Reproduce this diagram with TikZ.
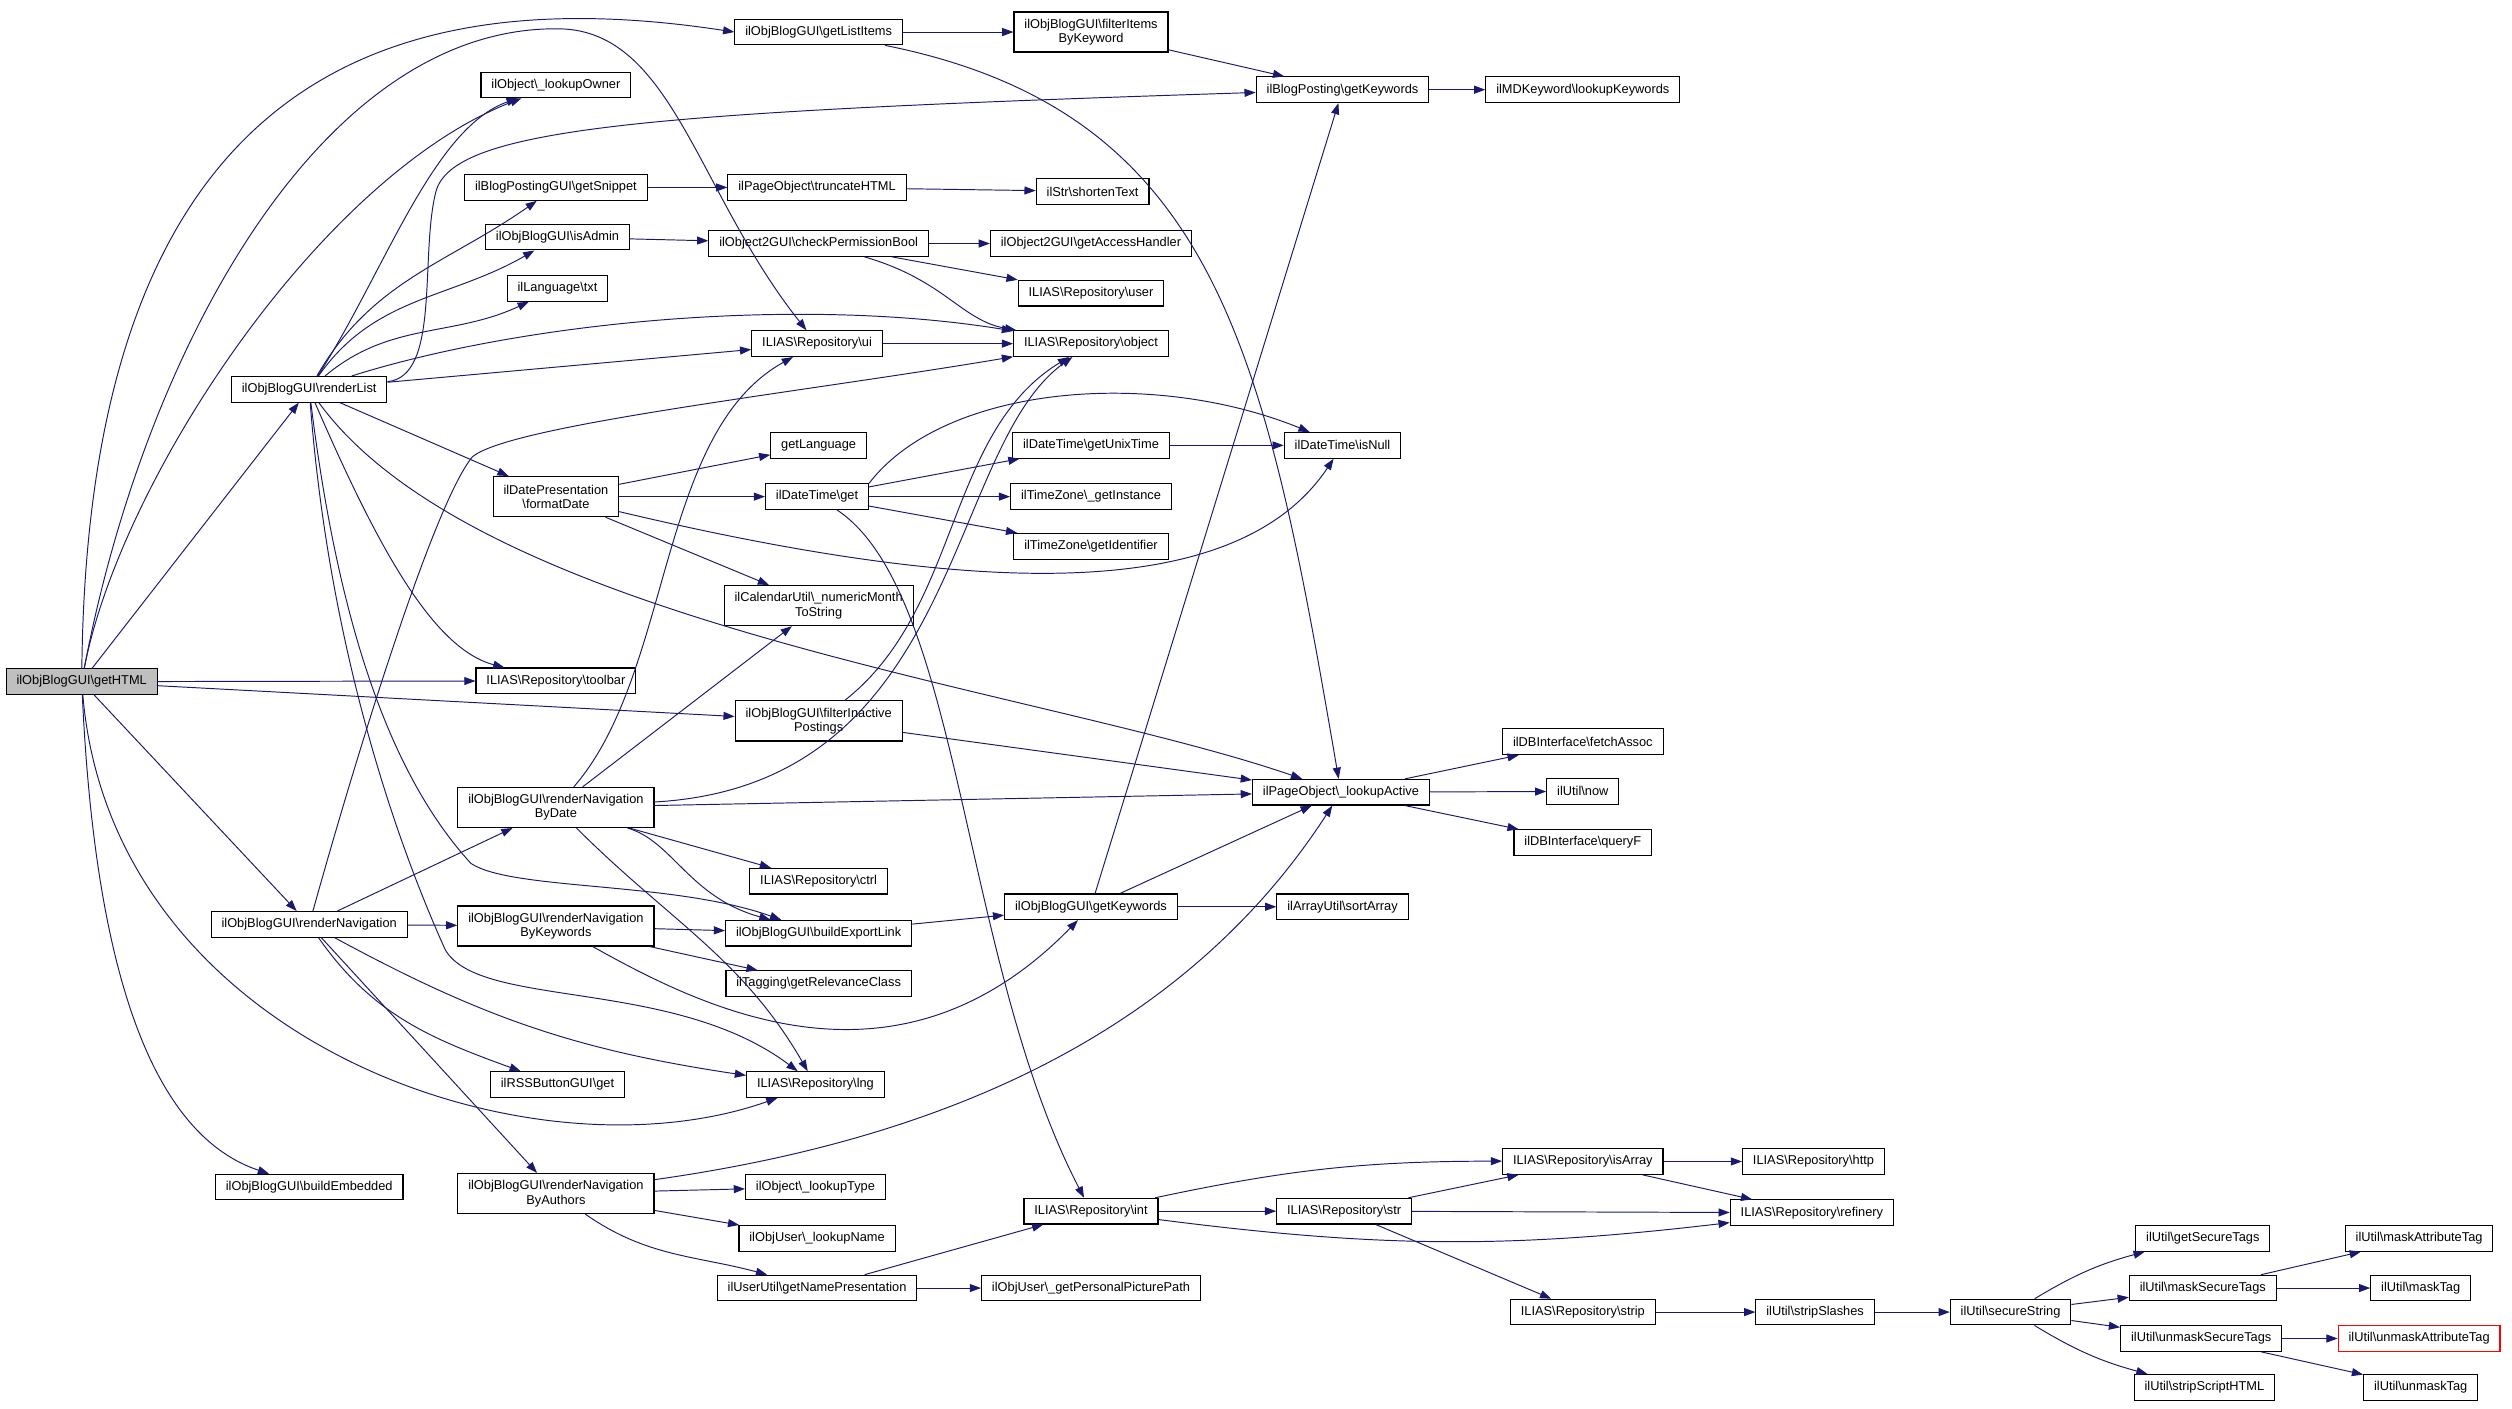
\documentclass[tikz,border=0pt]{standalone}
\usepackage{fontspec}
\setmainfont{Liberation Sans}
\usepackage{tikz}
\usetikzlibrary{positioning,arrows.meta}

\definecolor{edgeblue}{HTML}{191970}
\definecolor{rootgrey}{HTML}{BFBFBF}
\newcommand{\bkslash}{\textbackslash}

\begin{document}
\begin{tikzpicture}[x=1pt, y=1pt,
    fn/.style={draw=black, line width=0.7pt, fill=white, rectangle, inner xsep=6.5pt, inner ysep=2pt, minimum height=16pt, font=\fontsize{8}{9}\selectfont},
    fntwo/.style={fn, align=center, minimum height=25pt},
    call/.style={draw=edgeblue, line width=0.6pt, -{Triangle[length=7pt,width=5pt]}}]
        \useasboundingbox (0,0) rectangle (1568,-879.5);
        \fill[white] (0,0) rectangle (1568,-879.5);

        % Nodes
        \node[fn, fill=rootgrey] (getHTML) at (51,-425.5) {ilObjBlogGUI\bkslash{}getHTML};
        \node[fn] (renderList) at (193,-243) {ilObjBlogGUI\bkslash{}renderList};
        \node[fn] (renderNav) at (193,-577) {ilObjBlogGUI\bkslash{}renderNavigation};
        \node[fn] (buildEmbedded) at (193,-741) {ilObjBlogGUI\bkslash{}buildEmbedded};

        \node[fn] (lookupOwner) at (347,-53) {ilObject\bkslash{}\_lookupOwner};
        \node[fn] (getSnippet) at (347,-117) {ilBlogPostingGUI\bkslash{}getSnippet};
        \node[fn] (isAdmin) at (348,-148) {ilObjBlogGUI\bkslash{}isAdmin};
        \node[fn] (langTxt) at (348,-180) {ilLanguage\bkslash{}txt};
        \node[fntwo] (formatDate) at (347,-310) {ilDatePresentation\\\bkslash{}formatDate};
        \node[fn] (toolbar) at (347,-425) {ILIAS\bkslash{}Repository\bkslash{}toolbar};
        \node[fntwo] (navByDate) at (347,-504) {ilObjBlogGUI\bkslash{}renderNavigation\\ByDate};
        \node[fntwo] (navByKeywords) at (347,-578) {ilObjBlogGUI\bkslash{}renderNavigation\\ByKeywords};
        \node[fn] (rssGet) at (348,-677) {ilRSSButtonGUI\bkslash{}get};
        \node[fntwo] (navByAuthors) at (347,-745) {ilObjBlogGUI\bkslash{}renderNavigation\\ByAuthors};

        \node[fn] (getListItems) at (511,-20) {ilObjBlogGUI\bkslash{}getListItems};
        \node[fn] (truncateHTML) at (510,-117) {ilPageObject\bkslash{}truncateHTML};
        \node[fn] (checkPerm) at (511,-152) {ilObject2GUI\bkslash{}checkPermissionBool};
        \node[fn] (repoUi) at (510,-214.5) {ILIAS\bkslash{}Repository\bkslash{}ui};
        \node[fn] (getLanguage) at (511,-278) {getLanguage};
        \node[fn] (dtGet) at (510,-310) {ilDateTime\bkslash{}get};
        \node[fntwo] (numericMonth) at (511,-378) {ilCalendarUtil\bkslash{}\_numericMonth\\ToString};
        \node[fntwo] (filterInactive) at (511,-450) {ilObjBlogGUI\bkslash{}filterInactive\\Postings};
        \node[fn] (repoCtrl) at (511,-550) {ILIAS\bkslash{}Repository\bkslash{}ctrl};
        \node[fn] (buildExportLink) at (511,-582.5) {ilObjBlogGUI\bkslash{}buildExportLink};
        \node[fn] (relevanceClass) at (511,-614) {ilTagging\bkslash{}getRelevanceClass};
        \node[fn] (repoLng) at (509,-677) {ILIAS\bkslash{}Repository\bkslash{}lng};
        \node[fn] (lookupType) at (509,-741) {ilObject\bkslash{}\_lookupType};
        \node[fn] (lookupName) at (510,-773) {ilObjUser\bkslash{}\_lookupName};
        \node[fn] (namePresentation) at (510,-804) {ilUserUtil\bkslash{}getNamePresentation};

        \node[fntwo] (filterItems) at (681,-20) {ilObjBlogGUI\bkslash{}filterItems\\ByKeyword};
        \node[fn] (shortenText) at (682,-119.5) {ilStr\bkslash{}shortenText};
        \node[fn] (accessHandler) at (681,-152) {ilObject2GUI\bkslash{}getAccessHandler};
        \node[fn] (repoUser) at (681,-183) {ILIAS\bkslash{}Repository\bkslash{}user};
        \node[fn] (repoObject) at (681,-214.5) {ILIAS\bkslash{}Repository\bkslash{}object};
        \node[fn] (unixTime) at (681,-278) {ilDateTime\bkslash{}getUnixTime};
        \node[fn] (tzInstance) at (681,-310) {ilTimeZone\bkslash{}\_getInstance};
        \node[fn] (tzIdentifier) at (681,-341) {ilTimeZone\bkslash{}getIdentifier};
        \node[fn] (objKeywords) at (681,-566) {ilObjBlogGUI\bkslash{}getKeywords};
        \node[fn] (repoInt) at (681,-756) {ILIAS\bkslash{}Repository\bkslash{}int};
        \node[fn] (picturePath) at (681,-804) {ilObjUser\bkslash{}\_getPersonalPicturePath};

        \node[fn] (postingKeywords) at (838,-56) {ilBlogPosting\bkslash{}getKeywords};
        \node[fn] (isNull) at (838,-278) {ilDateTime\bkslash{}isNull};
        \node[fn] (lookupActive) at (837,-494.5) {ilPageObject\bkslash{}\_lookupActive};
        \node[fn] (sortArray) at (838,-566) {ilArrayUtil\bkslash{}sortArray};
        \node[fn] (repoStr) at (839,-756) {ILIAS\bkslash{}Repository\bkslash{}str};

        \node[fn] (mdKeywords) at (988,-56) {ilMDKeyword\bkslash{}lookupKeywords};
        \node[fn] (fetchAssoc) at (988,-463) {ilDBInterface\bkslash{}fetchAssoc};
        \node[fn] (utilNow) at (988,-494) {ilUtil\bkslash{}now};
        \node[fn] (queryF) at (988,-526) {ilDBInterface\bkslash{}queryF};
        \node[fn] (isArray) at (988,-725) {ILIAS\bkslash{}Repository\bkslash{}isArray};
        \node[fn] (repoStrip) at (988,-819) {ILIAS\bkslash{}Repository\bkslash{}strip};

        \node[fn] (repoHttp) at (1132,-725) {ILIAS\bkslash{}Repository\bkslash{}http};
        \node[fn] (refinery) at (1131,-757) {ILIAS\bkslash{}Repository\bkslash{}refinery};
        \node[fn] (stripSlashes) at (1133,-819) {ilUtil\bkslash{}stripSlashes};
        \node[fn] (secureString) at (1255,-819) {ilUtil\bkslash{}secureString};

        \node[fn] (getSecureTags) at (1375,-773) {ilUtil\bkslash{}getSecureTags};
        \node[fn] (maskSecureTags) at (1375,-804) {ilUtil\bkslash{}maskSecureTags};
        \node[fn] (unmaskSecureTags) at (1374,-835.5) {ilUtil\bkslash{}unmaskSecureTags};
        \node[fn] (stripScriptHTML) at (1376,-866) {ilUtil\bkslash{}stripScriptHTML};
        \node[fn] (maskAttrTag) at (1510,-773) {ilUtil\bkslash{}maskAttributeTag};
        \node[fn] (maskTag) at (1511,-804) {ilUtil\bkslash{}maskTag};
        \node[fn, draw=red] (unmaskAttrTag) at (1510,-835.5) {ilUtil\bkslash{}unmaskAttributeTag};
        \node[fn] (unmaskTag) at (1511,-866) {ilUtil\bkslash{}unmaskTag};

        % Calls from getHTML
        \draw[call] (getHTML) .. controls (55,-60) and (230,15) .. (getListItems.west);
        \draw[call] (getHTML) .. controls (90,-220) and (200,-15) .. (350,-18) .. controls (420,-20) and (435,-120) .. (repoUi);
        \draw[call] (getHTML) .. controls (75,-300) and (200,-110) .. (lookupOwner);
        \draw[call] (getHTML) -- (renderList);
        \draw[call] (getHTML) -- (toolbar);
        \draw[call] (getHTML) -- (filterInactive);
        \draw[call] (getHTML) -- (renderNav);
        \draw[call] (getHTML) .. controls (60,-620) and (100,-710) .. (buildEmbedded);
        \draw[call] (getHTML) .. controls (70,-650) and (330,-740) .. (repoLng);

        % Calls from renderList
        \draw[call] (renderList) .. controls (240,-170) and (270,-80) .. (lookupOwner);
        \draw[call] (renderList) to[out=60,in=-145] (getSnippet);
        \draw[call] (renderList) to[out=55,in=-150] (isAdmin);
        \draw[call] (renderList) to[out=40,in=-155] (langTxt);
        \draw[call] (renderList) .. controls (275,-235) and (262,-160) .. (272,-120) .. controls (282,-80) and (400,-70) .. (postingKeywords);
        \draw[call] (renderList) .. controls (330,-200) and (500,-185) .. (repoObject);
        \draw[call] (renderList) -- (repoUi);
        \draw[call] (renderList) -- (formatDate);
        \draw[call] (renderList) .. controls (235,-340) and (270,-405) .. (toolbar);
        \draw[call] (renderList) .. controls (300,-390) and (650,-430) .. (lookupActive);
        \draw[call] (renderList) .. controls (210,-380) and (240,-480) .. (294,-539) .. controls (320,-556) and (420,-550) .. (buildExportLink);
        \draw[call] (renderList) .. controls (205,-400) and (245,-520) .. (278,-593) .. controls (300,-630) and (420,-610) .. (repoLng);

        % Calls from renderNavigation
        \draw[call] (renderNav) -- (navByDate);
        \draw[call] (renderNav) -- (navByKeywords);
        \draw[call] (renderNav) to[out=-55,in=160] (rssGet);
        \draw[call] (renderNav) to[bend right=10] (repoLng);
        \draw[call] (renderNav) -- (navByAuthors);
        \draw[call] (renderNav) .. controls (220,-480) and (270,-315) .. (295,-285) .. controls (320,-265) and (500,-245) .. (repoObject);

        % Second column
        \draw[call] (getListItems) -- (filterItems);
        \draw[call] (getListItems) .. controls (760,-70) and (790,-220) .. (lookupActive);
        \draw[call] (getSnippet) -- (truncateHTML);
        \draw[call] (isAdmin) -- (checkPerm);
        \draw[call] (formatDate) -- (getLanguage);
        \draw[call] (formatDate) -- (dtGet);
        \draw[call] (formatDate) -- (numericMonth);
        \draw[call] (formatDate) .. controls (600,-370) and (770,-380) .. (isNull);
        \draw[call] (navByDate) .. controls (420,-420) and (410,-270) .. (repoUi);
        \draw[call] (navByDate) -- (numericMonth);
        \draw[call] (navByDate) .. controls (600,-490) and (590,-280) .. (repoObject);
        \draw[call] (navByDate) -- (lookupActive);
        \draw[call] (navByDate) -- (repoCtrl);
        \draw[call] (navByDate) .. controls (420,-525) and (430,-560) .. (buildExportLink);
        \draw[call] (navByDate) to[out=-45,in=120] (repoLng);
        \draw[call] (navByKeywords) -- (buildExportLink);
        \draw[call] (navByKeywords) -- (relevanceClass);
        \draw[call] (navByKeywords) .. controls (440,-630) and (560,-690) .. (objKeywords);
        \draw[call] (navByAuthors) -- (lookupType);
        \draw[call] (navByAuthors) -- (lookupName);
        \draw[call] (navByAuthors) to[out=-35,in=165] (namePresentation);
        \draw[call] (navByAuthors) .. controls (560,-715) and (730,-660) .. (lookupActive);

        % Third column
        \draw[call] (truncateHTML) -- (shortenText);
        \draw[call] (checkPerm) -- (accessHandler);
        \draw[call] (checkPerm) -- (repoUser);
        \draw[call] (checkPerm) .. controls (590,-175) and (600,-200) .. (repoObject);
        \draw[call] (repoUi) -- (repoObject);
        \draw[call] (dtGet) -- (unixTime);
        \draw[call] (dtGet) -- (tzInstance);
        \draw[call] (dtGet) -- (tzIdentifier);
        \draw[call] (dtGet.north east) .. controls (590,-240) and (720,-230) .. (isNull);
        \draw[call] (dtGet) .. controls (600,-370) and (600,-600) .. (repoInt);
        \draw[call] (filterInactive) .. controls (600,-380) and (590,-270) .. (repoObject);
        \draw[call] (filterInactive) -- (lookupActive);
        \draw[call] (buildExportLink) -- (objKeywords);
        \draw[call] (namePresentation) -- (repoInt);
        \draw[call] (namePresentation) -- (picturePath);
        \draw[call] (filterItems) -- (postingKeywords);

        % Right part
        \draw[call] (postingKeywords) -- (mdKeywords);
        \draw[call] (unixTime) -- (isNull);
        \draw[call] (objKeywords) -- (sortArray);
        \draw[call] (objKeywords) -- (lookupActive);
        \draw[call] (objKeywords) -- (postingKeywords);
        \draw[call] (lookupActive) -- (fetchAssoc);
        \draw[call] (lookupActive) -- (utilNow);
        \draw[call] (lookupActive) -- (queryF);
        \draw[call] (repoInt) to[bend left=6] (isArray);
        \draw[call] (repoInt) -- (repoStr);
        \draw[call] (repoInt) to[bend right=7] (refinery);
        \draw[call] (repoStr) -- (isArray);
        \draw[call] (repoStr) -- (refinery);
        \draw[call] (repoStr) -- (repoStrip);
        \draw[call] (isArray) -- (repoHttp);
        \draw[call] (isArray) -- (refinery);
        \draw[call] (repoStrip) -- (stripSlashes);
        \draw[call] (stripSlashes) -- (secureString);
        \draw[call] (secureString) to[bend left=8] (getSecureTags);
        \draw[call] (secureString) -- (maskSecureTags);
        \draw[call] (secureString) -- (unmaskSecureTags);
        \draw[call] (secureString) to[bend right=8] (stripScriptHTML);
        \draw[call] (maskSecureTags) -- (maskAttrTag);
        \draw[call] (maskSecureTags) -- (maskTag);
        \draw[call] (unmaskSecureTags) -- (unmaskAttrTag);
        \draw[call] (unmaskSecureTags) -- (unmaskTag);
\end{tikzpicture}
\end{document}
